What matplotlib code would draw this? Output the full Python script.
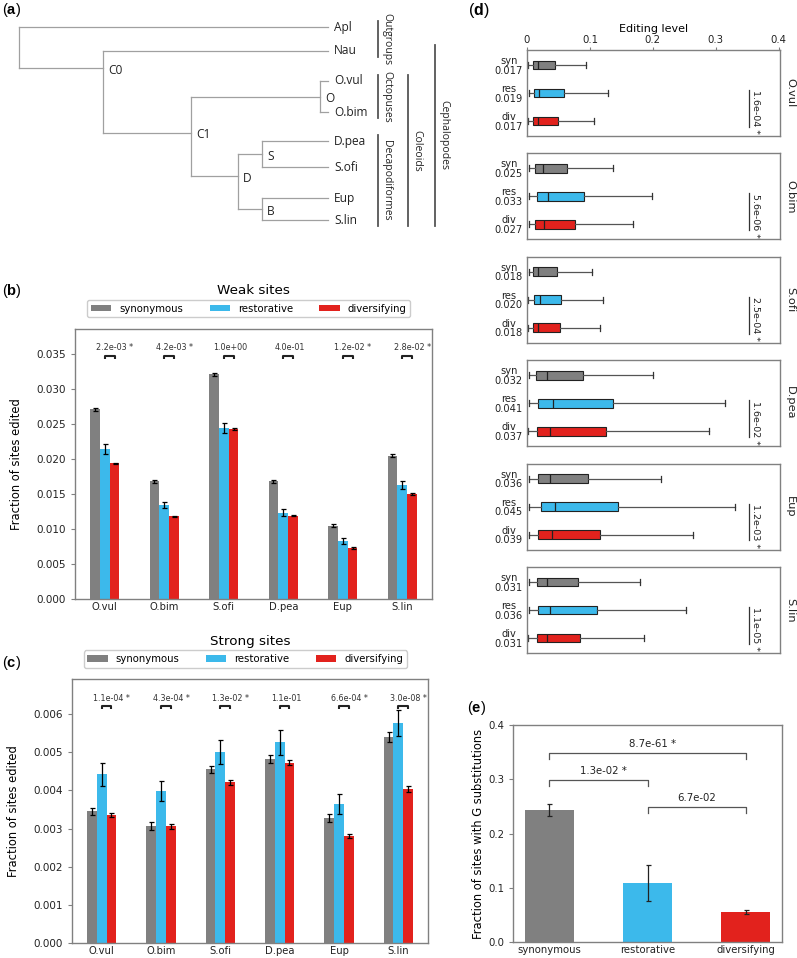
import matplotlib
matplotlib.use('Agg')
import matplotlib.pyplot as plt
import numpy as np

# ---- data ----
categories = ['synonymous', 'restorative', 'diversifying']
cat_short = ['syn', 'res', 'div']
species = ['O.vul', 'O.bim', 'S.ofi', 'D.pea', 'Eup', 'S.lin']

# (a) tree
tree_leaves = ['Apl', 'Nau', 'O.vul', 'O.bim', 'D.pea', 'S.ofi', 'Eup', 'S.lin']
tree_children = {'root': ['Apl', 'C0'], 'C0': ['Nau', 'C1'], 'C1': ['O', 'D'],
                 'O': ['O.vul', 'O.bim'], 'D': ['S', 'B'],
                 'S': ['D.pea', 'S.ofi'], 'B': ['Eup', 'S.lin']}
clades = ['Outgroups', 'Octopuses', 'Decapodiformes', 'Coleoids', 'Cephalopodes']
clade_first = ['Apl', 'O.vul', 'D.pea', 'O.vul', 'Nau']
clade_last = ['Nau', 'O.bim', 'S.lin', 'S.lin', 'S.lin']

# (b) weak sites
weak_syn = [0.0271, 0.0168, 0.0321, 0.0168, 0.0105, 0.0205]
weak_res = [0.0214, 0.0134, 0.0244, 0.0123, 0.0083, 0.0163]
weak_div = [0.0194, 0.0118, 0.0243, 0.0119, 0.0073, 0.0150]
weak_syn_err = [0.0002, 0.0002, 0.0002, 0.0002, 0.0002, 0.0002]
weak_res_err = [0.0007, 0.00045, 0.0007, 0.0005, 0.0004, 0.0006]
weak_div_err = [0.0001, 0.0001, 0.0001, 0.0001, 0.0001, 0.0001]
weak_pvals = ['2.2e-03 *', '4.2e-03 *', '1.0e+00', '4.0e-01', '1.2e-02 *', '2.8e-02 *']

# (c) strong sites
strong_syn = [0.00345, 0.00307, 0.00455, 0.00483, 0.00327, 0.00540]
strong_res = [0.00442, 0.00398, 0.00500, 0.00526, 0.00365, 0.00576]
strong_div = [0.00335, 0.00306, 0.00421, 0.00473, 0.00280, 0.00404]
strong_syn_err = [0.0001, 0.0001, 0.0001, 0.0001, 0.0001, 0.00012]
strong_res_err = [0.0003, 0.00027, 0.00032, 0.00032, 0.00026, 0.00034]
strong_div_err = [0.00006, 0.00006, 0.00006, 0.00006, 0.00006, 0.00007]
strong_pvals = ['1.1e-04 *', '4.3e-04 *', '1.3e-02 *', '1.1e-01', '6.6e-04 *', '3.0e-08 *']

# (d) editing level boxplots [species][syn, res, div]
d_whislo = [[0.002, 0.003, 0.002], [0.003, 0.003, 0.003], [0.003, 0.002, 0.002],
            [0.003, 0.003, 0.002], [0.003, 0.003, 0.003], [0.003, 0.003, 0.002]]
d_q1 = [[0.0096, 0.011, 0.0096], [0.0128, 0.016, 0.0128], [0.009, 0.011, 0.009],
        [0.014, 0.018, 0.0154], [0.018, 0.022, 0.018], [0.016, 0.018, 0.0154]]
d_med = [[0.017, 0.019, 0.017], [0.025, 0.033, 0.027], [0.018, 0.020, 0.018],
         [0.032, 0.041, 0.037], [0.036, 0.045, 0.039], [0.031, 0.036, 0.031]]
d_q3 = [[0.044, 0.058, 0.050], [0.063, 0.091, 0.076], [0.047, 0.054, 0.053],
        [0.089, 0.136, 0.125], [0.097, 0.145, 0.116], [0.081, 0.112, 0.0835]]
d_whishi = [[0.0936, 0.128, 0.107], [0.136, 0.199, 0.169], [0.104, 0.121, 0.116],
            [0.200, 0.314, 0.289], [0.213, 0.331, 0.263], [0.179, 0.253, 0.186]]
d_pvals = ['1.6e-04 *', '5.6e-06 *', '2.5e-04 *', '1.6e-02 *', '1.2e-03 *', '1.1e-05 *']

# (e) G substitutions
g_values = [0.243, 0.109, 0.055]
g_err = [0.011, 0.033, 0.004]
g_pairs = [(0, 2), (0, 1), (1, 2)]
g_pvals = ['8.7e-61 *', '1.3e-02 *', '6.7e-02']

# ---- style ----
colors = ['#808080', '#3cb9eb', '#e2221d']
spine_col = '#808080'
plt.rcParams['font.family'] = ['DejaVu Sans']
plt.rcParams['mathtext.fontset'] = 'custom'
plt.rcParams['mathtext.rm'] = 'Liberation Sans'
plt.rcParams['mathtext.bf'] = 'Liberation Sans:bold'

W, H = 797, 958
fig = plt.figure(figsize=(W / 100, H / 100), dpi=100)


def px_box(l, t, r, b):
    return [l / W, 1 - b / H, (r - l) / W, (b - t) / H]


def panel_label(x, y, letter, size=10.5):
    fig.text(x / W, 1 - y / H, r'($\mathbf{%s}$)' % letter, fontsize=size,
             family='Liberation Sans', ha='left', va='center')


def style_axes(ax):
    for s in ax.spines.values():
        s.set_color(spine_col)
        s.set_linewidth(1.0)
    ax.tick_params(color=spine_col, labelcolor='#222222')


# ---- (a) tree ----
ax_a = fig.add_axes(px_box(0, 0, 460, 232))
ax_a.set_xlim(0, 460)
ax_a.set_ylim(232, 0)
ax_a.axis('off')
leaf_y = dict(zip(tree_leaves, [27, 51, 81, 112, 141, 167, 198, 220]))
leaf_x = 328
node_x = {'root': 19, 'C0': 103, 'C1': 191, 'O': 320, 'D': 238, 'S': 262, 'B': 262}
node_y = {'C0': 68, 'C1': 133, 'O': 96.5, 'D': 176, 'S': 154, 'B': 209}
tree_col = '#a0a0a0'


def ypos(n):
    return leaf_y[n] if n in leaf_y else node_y[n]


for node, kids in tree_children.items():
    x0 = node_x[node]
    ys = [ypos(k) for k in kids]
    ax_a.plot([x0, x0], [min(ys), max(ys)], color=tree_col, lw=0.9)
    for k in kids:
        x1 = leaf_x if k in leaf_y else node_x[k]
        ax_a.plot([x0, x1], [ypos(k), ypos(k)], color=tree_col, lw=0.9)
    if node != 'root':
        ax_a.text(x0 + 5, node_y[node] + 2, node, fontsize=8.6, family='Open Sans',
                  ha='left', va='center', color='#222')
for leaf in tree_leaves:
    ax_a.text(leaf_x + 6, leaf_y[leaf], leaf, fontsize=8.6, family='Open Sans',
              ha='left', va='center', color='#222')
clade_x = [378, 378, 378, 408, 435]
for name, f, l, cx in zip(clades, clade_first, clade_last, clade_x):
    y0, y1 = leaf_y[f] - 6, leaf_y[l] + 6
    ax_a.plot([cx, cx], [y0, y1], color='#555555', lw=1.3)
    ax_a.text(cx + 3, (y0 + y1) / 2, name, rotation=-90, fontsize=7.5,
              family='Open Sans', ha='left', va='center', color='#222')
panel_label(2, 10, 'a')


# ---- (b), (c) grouped bars ----
def grouped(ax, vals, errs, pvals, ylim, ticks, sig_y, txt_y, drop):
    x = np.arange(len(species))
    w = 0.165
    for k in range(3):
        ax.bar(x + (k - 1) * w, vals[k], w, yerr=errs[k], color=colors[k],
               label=categories[k],
               error_kw=dict(elinewidth=0.9, capsize=1.8, capthick=0.9, ecolor='black'))
    for i, p in enumerate(pvals):
        x0, x1 = i, i + w
        ax.plot([x0, x0, x1, x1], [sig_y - drop, sig_y, sig_y, sig_y - drop],
                color='#222222', lw=1.5, solid_capstyle='butt')
        off = 0.055 if p.endswith('*') else 0.0
        ax.text((x0 + x1) / 2 + 0.03 + off, txt_y, p, ha='center', va='center',
                fontsize=5.8, color='#333333')
    ax.set_xlim(-0.5, len(species) - 0.5)
    ax.set_ylim(0, ylim)
    ax.set_yticks(ticks)
    ax.set_yticklabels(['%.3f' % t for t in ticks], fontsize=7.5)
    ax.set_xticks(x)
    ax.set_xticklabels(species, fontsize=7.2)
    ax.tick_params(axis='x', length=0, pad=2)
    ax.tick_params(axis='y', length=3)
    ax.set_ylabel('Fraction of sites edited', fontsize=8.3)
    ax.yaxis.set_label_coords(-0.146, 0.5)
    style_axes(ax)
    ax.legend(loc='lower center', bbox_to_anchor=(0.487, 1.024), ncol=3, fontsize=7.3,
              handlelength=2.0, handleheight=0.55, columnspacing=2.6, borderpad=0.35,
              handletextpad=0.8, edgecolor='#cccccc', framealpha=1)


ax_b = fig.add_axes(px_box(75, 329, 432, 599))
grouped(ax_b, [weak_syn, weak_res, weak_div], [weak_syn_err, weak_res_err, weak_div_err],
        weak_pvals, 0.0386, np.arange(0, 0.0351, 0.005), 0.03476, 0.0359, 0.0004)
fig.text(253 / W, 1 - 291 / H, 'Weak sites', fontsize=9.7, ha='center', va='center')
panel_label(2, 291, 'b')

ax_c = fig.add_axes(px_box(72, 679, 428, 943))
grouped(ax_c, [strong_syn, strong_res, strong_div],
        [strong_syn_err, strong_res_err, strong_div_err],
        strong_pvals, 0.00692, np.arange(0, 0.00601, 0.001), 0.00621, 0.00641, 0.00007)
fig.text(250 / W, 1 - 642 / H, 'Strong sites', fontsize=9.7, ha='center', va='center')
panel_label(2, 663, 'c')

# ---- (d) boxplots ----
for i, sp in enumerate(species):
    top = 50 + i * 103.4
    ax = fig.add_axes(px_box(527, top, 780, top + 86))
    stats = []
    for k in range(3):
        stats.append(dict(whislo=d_whislo[i][k], q1=d_q1[i][k], med=d_med[i][k],
                          q3=d_q3[i][k], whishi=d_whishi[i][k], fliers=[]))
    bp = ax.bxp(stats, positions=[0, 1, 2], orientation='horizontal', widths=0.32,
                patch_artist=True, showfliers=False, capwidths=0.22,
                boxprops=dict(edgecolor='#222222', linewidth=0.8),
                whiskerprops=dict(color='#555555', linewidth=0.9),
                capprops=dict(color='#333333', linewidth=0.9),
                medianprops=dict(color='#222222', linewidth=0.9))
    for patch, c in zip(bp['boxes'], colors):
        patch.set_facecolor(c)
    ax.set_xlim(0, 0.402)
    ax.set_ylim(2.536, -0.536)
    ax.set_yticks([0, 1, 2])
    ax.set_yticklabels(['%s\n%.3f' % (cat_short[k], d_med[i][k]) for k in range(3)],
                       fontsize=7.1, linespacing=0.95)
    for lbl in ax.get_yticklabels():
        lbl.set_multialignment('center')
    ax.tick_params(axis='y', length=0, pad=3)
    if i == 0:
        ax.xaxis.tick_top()
        ax.set_xticks([0, 0.1, 0.2, 0.3, 0.4])
        ax.set_xticklabels(['0', '0.1', '0.2', '0.3', '0.4'], fontsize=7.3)
        ax.tick_params(axis='x', length=2, pad=1.5)
        ax.xaxis.set_label_position('top')
        ax.set_xlabel('Editing level', fontsize=8, labelpad=2)
    else:
        ax.set_xticks([])
    ax.plot([0.3527, 0.3527], [0.89, 2.21], color='#333333', lw=0.9)
    ax.text(0.356, 1.69, d_pvals[i], rotation=-90, fontsize=6.8, ha='left',
            va='center', color='#222222')
    ax.text(1.02, 0.5, sp, rotation=-90, fontsize=8.2, ha='left', va='center',
            transform=ax.transAxes, color='#222222')
    style_axes(ax)
panel_label(468, 10, 'd', size=11.5)

# ---- (e) G substitutions ----
ax_e = fig.add_axes(px_box(513, 725, 782, 942))
xe = np.arange(len(categories))
ax_e.bar(xe, g_values, 0.5, yerr=g_err, color=colors,
         error_kw=dict(elinewidth=0.9, capsize=1.8, capthick=0.9, ecolor='#222222'))
br_y = [0.349, 0.299, 0.249]
for (a, b), p, y in zip(g_pairs, g_pvals, br_y):
    ax_e.plot([a, a, b, b], [y - 0.012, y, y, y - 0.012], color='#555555', lw=0.9)
    off = 0.05 if p.endswith('*') else 0.0
    ax_e.text((a + b) / 2 + off, y + 0.016, p, ha='center', va='center', fontsize=7.3,
              color='#222222')
ax_e.set_xlim(-0.37, 2.37)
ax_e.set_ylim(0, 0.4)
ax_e.set_yticks([0, 0.1, 0.2, 0.3, 0.4])
ax_e.set_yticklabels(['0.0', '0.1', '0.2', '0.3', '0.4'], fontsize=7.3)
ax_e.set_xticks(xe)
ax_e.set_xticklabels(categories, fontsize=7.3)
ax_e.tick_params(axis='x', length=0, pad=2)
ax_e.tick_params(axis='y', length=3)
ax_e.set_ylabel('Fraction of sites with G substitutions', fontsize=8.3)
ax_e.yaxis.set_label_coords(-0.104, 0.5)
style_axes(ax_e)
panel_label(467, 708, 'e')

fig.savefig('out.png', dpi=100)
